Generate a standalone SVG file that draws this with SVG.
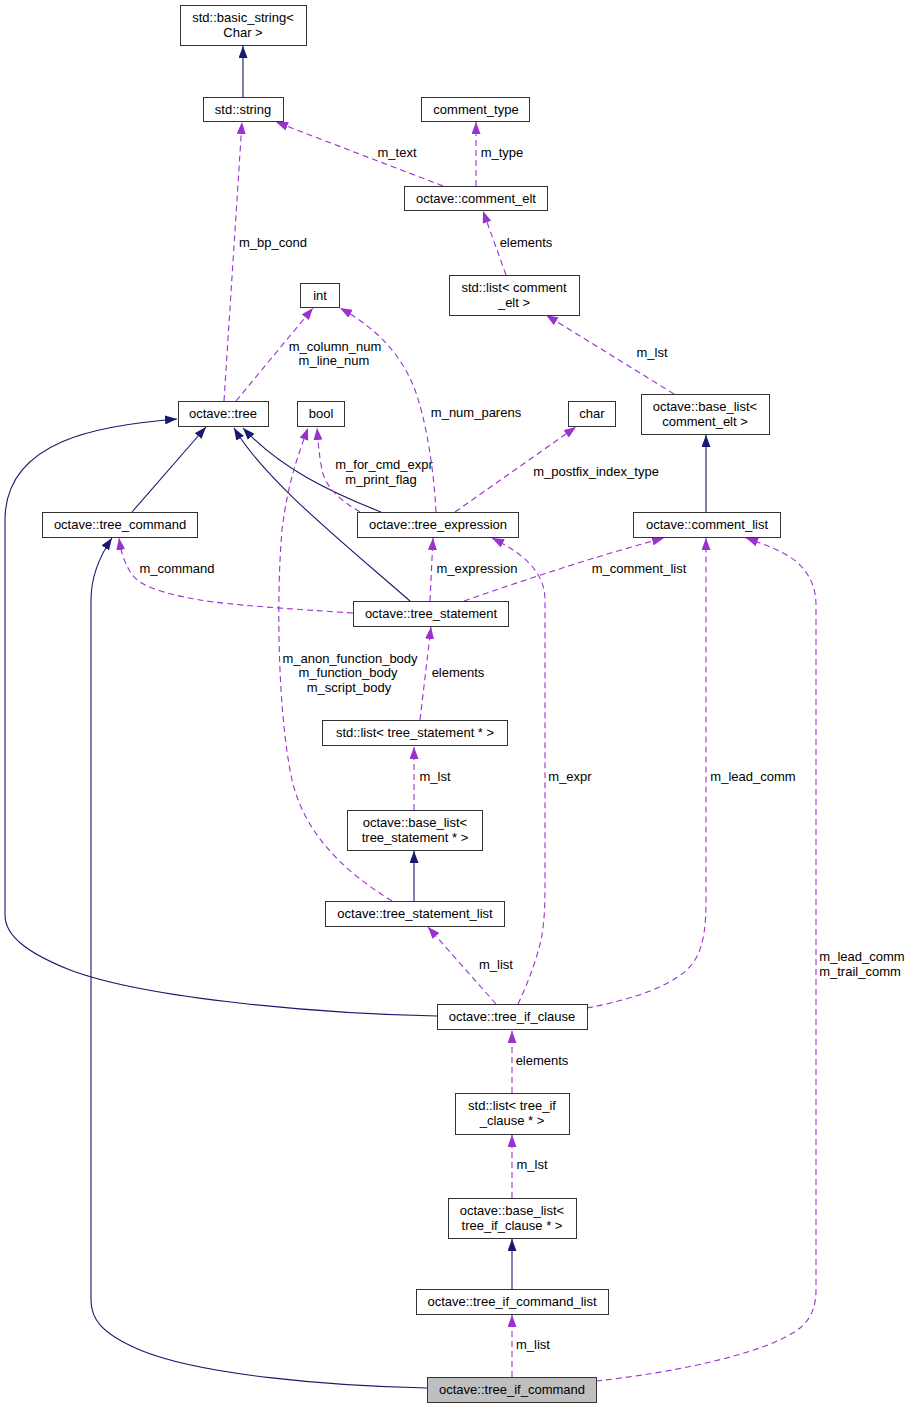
<svg xmlns="http://www.w3.org/2000/svg" width="911" height="1409" viewBox="0 0 911 1409">
<style>
text{font-family:"Liberation Sans",Arial,sans-serif;font-size:13px;fill:#000;text-anchor:middle}
.n rect{fill:#fff;stroke:#333;stroke-width:1}
.n.cur rect{fill:#bfbfbf}
.inh{fill:none;stroke:#191970;stroke-width:1.1;marker-end:url(#an)}
.use{fill:none;stroke:#9a32cd;stroke-width:1.1;stroke-dasharray:6,4;marker-end:url(#ap)}
</style>
<defs>
<marker id="an" viewBox="0 0 12 9" refX="12" refY="4.5" markerWidth="12" markerHeight="9" markerUnits="userSpaceOnUse" orient="auto"><path d="M0,0 L12,4.5 L0,9 Z" fill="#191970"/></marker>
<marker id="ap" viewBox="0 0 12 9" refX="12" refY="4.5" markerWidth="12" markerHeight="9" markerUnits="userSpaceOnUse" orient="auto"><path d="M0,0 L12,4.5 L0,9 Z" fill="#9a32cd"/></marker>
</defs>
<rect width="911" height="1409" fill="#fff"/>
<g id="connectors">
<path class="inh" d="M243,97 L243,46"/>
<path class="inh" d="M132,512 L206,427"/>
<path class="inh" d="M381,512 C330,492 280,468 243,428"/>
<path class="inh" d="M410,601 C340,540 265,480 234,428"/>
<path class="inh" d="M437,1016 C330,1014 150,1000 70,970 C25,952 5,935 5,915 L5,520 C5,440 100,425 177,419"/>
<path class="inh" d="M427,1388 C330,1386 200,1375 140,1350 C100,1333 91,1318 91,1300 L91,600 C91,580 97,560 112,538"/>
<path class="inh" d="M706,512 L706,435"/>
<path class="inh" d="M414,901 L414,851"/>
<path class="inh" d="M512,1289 L512,1239"/>
<path class="use" d="M443,186 L276,122"/>
<path class="use" d="M476,186 L476,122"/>
<path class="use" d="M224,401 L242,122"/>
<path class="use" d="M506,275 L483,211"/>
<path class="use" d="M674,394 L546,315"/>
<path class="use" d="M236,401 L313,308"/>
<path class="use" d="M436,512 C434,470 426,420 415,390 C403,358 380,330 340,308"/>
<path class="use" d="M360,512 C340,500 326,488 322,470 C319,455 318,440 317,428"/>
<path class="use" d="M392,901 C345,872 305,835 292,780 C278,715 276,600 282,530 C288,480 300,450 308,428"/>
<path class="use" d="M455,512 L576,427"/>
<path class="use" d="M353,613 C290,609 230,605 200,600 C160,593 138,585 131,573 C124,562 121,552 119,538"/>
<path class="use" d="M430,601 L433,538"/>
<path class="use" d="M464,601 C530,578 600,555 664,538"/>
<path class="use" d="M420,720 L431,627"/>
<path class="use" d="M414,810 L414,747"/>
<path class="use" d="M496,1004 L428,927"/>
<path class="use" d="M518,1004 C527,985 536,962 541,940 C545,920 545,900 545,880 L545,600 C545,570 520,552 492,538"/>
<path class="use" d="M587,1008 C630,1000 680,985 695,960 C704,945 706,925 706,900 L706,538"/>
<path class="use" d="M512,1093 L512,1031"/>
<path class="use" d="M512,1198 L512,1135"/>
<path class="use" d="M512,1377 L512,1315"/>
<path class="use" d="M596,1381 C680,1372 770,1352 800,1328 C812,1318 816,1305 816,1290 L816,605 C816,578 800,562 785,554 C772,547 760,543 746,538"/>
<text x="397" y="157">m_text</text>
<text x="502" y="157">m_type</text>
<text x="273" y="247">m_bp_cond</text>
<text x="526" y="247">elements</text>
<text x="652" y="357">m_lst</text>
<text x="335" y="351">m_column_num</text>
<text x="334" y="365">m_line_num</text>
<text x="476" y="417">m_num_parens</text>
<text x="384" y="469">m_for_cmd_expr</text>
<text x="381" y="484">m_print_flag</text>
<text x="596" y="476">m_postfix_index_type</text>
<text x="177" y="573">m_command</text>
<text x="477" y="573">m_expression</text>
<text x="639" y="573">m_comment_list</text>
<text x="350" y="663">m_anon_function_body</text>
<text x="348" y="677">m_function_body</text>
<text x="349" y="692">m_script_body</text>
<text x="458" y="677">elements</text>
<text x="435" y="781">m_lst</text>
<text x="570" y="781">m_expr</text>
<text x="753" y="781">m_lead_comm</text>
<text x="496" y="969">m_list</text>
<text x="862" y="961">m_lead_comm</text>
<text x="860" y="976">m_trail_comm</text>
<text x="542" y="1065">elements</text>
<text x="532" y="1169">m_lst</text>
<text x="533" y="1349">m_list</text>
</g>
<g id="basic_string" class="n"><rect x="180.5" y="5.5" width="126" height="40"/><text x="243" y="22">std::basic_string&lt;</text><text x="243" y="37">Char &gt;</text></g>
<g id="std_string" class="n"><rect x="203.5" y="97.5" width="80" height="24"/><text x="243" y="114">std::string</text></g>
<g id="comment_type" class="n"><rect x="421.5" y="97.5" width="108" height="24"/><text x="476" y="114">comment_type</text></g>
<g id="comment_elt" class="n"><rect x="404.5" y="186.5" width="143" height="24"/><text x="476" y="203">octave::comment_elt</text></g>
<g id="list_comment_elt" class="n"><rect x="449.5" y="275.5" width="130" height="40"/><text x="514" y="292">std::list&lt; comment</text><text x="514" y="307">_elt &gt;</text></g>
<g id="int" class="n"><rect x="300.5" y="283.5" width="39" height="24"/><text x="320" y="300">int</text></g>
<g id="tree" class="n"><rect x="178.5" y="401.5" width="90" height="25"/><text x="223" y="418">octave::tree</text></g>
<g id="bool" class="n"><rect x="297.5" y="401.5" width="47" height="25"/><text x="321" y="418">bool</text></g>
<g id="char" class="n"><rect x="568.5" y="401.5" width="47" height="25"/><text x="592" y="418">char</text></g>
<g id="base_list_comment_elt" class="n"><rect x="641.5" y="394.5" width="128" height="40"/><text x="705" y="411">octave::base_list&lt;</text><text x="705" y="426">comment_elt &gt;</text></g>
<g id="comment_list" class="n"><rect x="633.5" y="512.5" width="147" height="25"/><text x="707" y="529">octave::comment_list</text></g>
<g id="tree_command" class="n"><rect x="42.5" y="512.5" width="155" height="25"/><text x="120" y="529">octave::tree_command</text></g>
<g id="tree_expression" class="n"><rect x="357.5" y="512.5" width="161" height="25"/><text x="438" y="529">octave::tree_expression</text></g>
<g id="tree_statement" class="n"><rect x="353.5" y="601.5" width="155" height="25"/><text x="431" y="618">octave::tree_statement</text></g>
<g id="list_tree_statement" class="n"><rect x="322.5" y="720.5" width="185" height="25"/><text x="415" y="737">std::list&lt; tree_statement * &gt;</text></g>
<g id="base_list_tree_statement" class="n"><rect x="347.5" y="810.5" width="135" height="40"/><text x="415" y="827">octave::base_list&lt;</text><text x="415" y="842">tree_statement * &gt;</text></g>
<g id="tree_statement_list" class="n"><rect x="325.5" y="901.5" width="179" height="25"/><text x="415" y="918">octave::tree_statement_list</text></g>
<g id="tree_if_clause" class="n"><rect x="437.5" y="1004.5" width="150" height="25"/><text x="512" y="1021">octave::tree_if_clause</text></g>
<g id="list_tree_if_clause" class="n"><rect x="455.5" y="1093.5" width="114" height="41"/><text x="512" y="1110">std::list&lt; tree_if</text><text x="512" y="1125">_clause * &gt;</text></g>
<g id="base_list_tree_if_clause" class="n"><rect x="448.5" y="1198.5" width="128" height="40"/><text x="512" y="1215">octave::base_list&lt;</text><text x="512" y="1230">tree_if_clause * &gt;</text></g>
<g id="tree_if_command_list" class="n"><rect x="416.5" y="1289.5" width="192" height="25"/><text x="512" y="1306">octave::tree_if_command_list</text></g>
<g id="tree_if_command" class="n cur"><rect x="427.5" y="1377.5" width="169" height="25"/><text x="512" y="1394">octave::tree_if_command</text></g>
</svg>
